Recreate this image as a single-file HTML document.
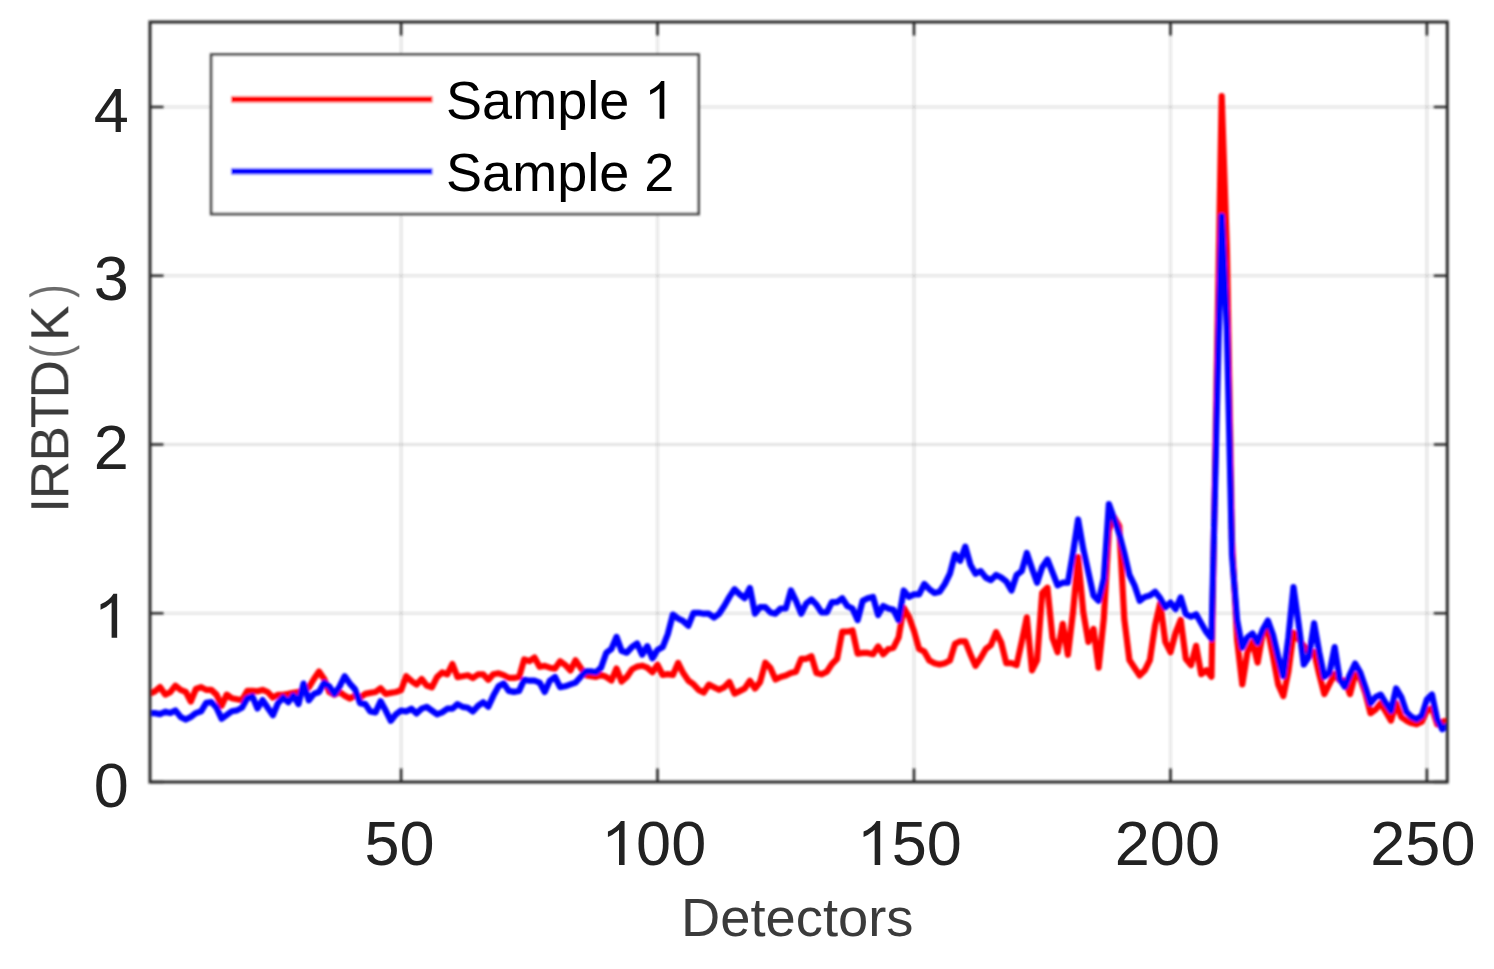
<!DOCTYPE html>
<html><head><meta charset="utf-8"><title>IRBTD chart</title>
<style>html,body{margin:0;padding:0;background:#fff;overflow:hidden}svg{display:block}text{font-kerning:none;white-space:pre}</style>
</head><body>
<svg width="1494" height="969" viewBox="0 0 1494 969"><defs><clipPath id="c"><rect x="150" y="22" width="1297.3" height="760"/></clipPath><filter id="fl" x="0" y="0" width="1494" height="969" filterUnits="userSpaceOnUse"><feGaussianBlur stdDeviation="0.8"/></filter><filter id="ft" x="0" y="0" width="1494" height="969" filterUnits="userSpaceOnUse"><feGaussianBlur stdDeviation="0.5"/></filter></defs><rect width="1494" height="969" fill="#fff"/><g filter="url(#fl)"><path d="M401.1 22V782 M657.5 22V782 M914.0 22V782 M1170.5 22V782 M1426.9 22V782" stroke="#262626" stroke-opacity="0.13" stroke-width="2.6" fill="none"/><path d="M150 613.2H1447.3 M150 444.5H1447.3 M150 275.8H1447.3 M150 107.0H1447.3" stroke="#262626" stroke-opacity="0.13" stroke-width="2.6" fill="none"/><g clip-path="url(#c)" fill="none" stroke-width="6.2" stroke-linejoin="round" stroke-linecap="round"><polyline points="149.8,693.6 154.9,691.3 160.0,687.1 165.2,694.6 170.3,692.2 175.4,685.7 180.6,689.9 185.7,691.8 190.8,701.5 195.9,689.0 201.1,687.1 206.2,689.9 211.3,689.9 216.5,694.6 221.6,705.7 226.7,694.6 231.8,698.3 237.0,699.2 242.1,700.1 247.2,690.9 252.4,690.9 257.5,691.3 262.6,689.9 267.7,692.0 272.9,697.6 278.0,694.8 283.1,694.8 288.3,693.9 293.4,692.9 298.5,692.0 303.6,690.1 308.8,687.4 313.9,679.0 319.0,671.6 324.2,679.0 329.3,692.0 334.4,694.8 339.6,692.0 344.7,695.7 349.8,698.5 354.9,695.7 360.1,697.6 365.2,693.9 370.3,692.9 375.5,692.0 380.6,688.3 385.7,693.9 390.8,692.9 396.0,692.0 401.1,690.1 406.2,676.2 411.4,680.9 416.5,684.6 421.6,679.0 426.7,685.5 431.9,687.4 437.0,677.1 442.1,672.5 447.3,674.4 452.4,664.1 457.5,677.1 462.6,676.2 467.8,675.3 472.9,678.1 478.0,674.4 483.2,674.4 488.3,679.8 493.4,674.2 498.6,673.3 503.7,675.1 508.8,677.9 513.9,677.9 519.1,677.0 524.2,659.4 529.3,661.2 534.5,657.5 539.6,666.8 544.7,665.9 549.8,667.7 555.0,668.6 560.1,661.2 565.2,664.9 570.4,670.5 575.5,660.3 580.6,667.7 585.7,675.1 590.9,676.1 596.0,676.9 601.1,675.0 606.3,676.9 611.4,680.6 616.5,668.5 621.6,681.5 626.8,676.9 631.9,669.4 637.0,666.6 642.2,665.7 647.3,667.6 652.4,672.2 657.5,664.8 662.7,675.0 667.8,674.1 672.9,675.0 678.1,662.9 683.2,673.1 688.3,680.6 693.5,684.3 698.6,689.9 703.7,692.6 708.8,684.6 714.0,687.2 719.1,689.8 724.2,687.2 729.4,682.0 734.5,693.6 739.6,691.1 744.7,688.5 749.9,680.8 755.0,688.5 760.1,682.0 765.3,662.7 770.4,667.9 775.5,679.5 780.6,676.9 785.8,675.6 790.9,673.0 796.0,671.7 801.2,658.8 806.3,658.8 811.4,656.2 816.5,673.0 821.7,674.3 826.8,671.7 831.9,664.0 837.1,658.8 842.2,631.7 847.3,631.7 852.5,630.5 857.6,653.7 862.7,652.9 867.8,652.9 873.0,654.2 878.1,646.4 883.2,654.2 888.4,649.0 893.5,647.7 898.6,637.4 903.7,607.7 908.9,616.8 914.0,631.0 919.1,649.0 924.3,651.6 929.4,660.6 934.5,663.2 939.6,664.5 944.8,663.2 949.9,660.6 955.0,643.8 960.2,641.3 965.3,641.3 970.4,654.2 975.5,665.8 980.7,658.0 985.8,649.0 990.9,645.1 996.1,632.2 1001.2,642.6 1006.3,663.2 1011.5,663.2 1016.6,665.1 1021.7,641.9 1026.8,617.4 1032.0,670.3 1037.1,660.0 1042.2,592.9 1047.4,587.7 1052.5,638.0 1057.6,652.2 1062.7,623.8 1067.9,654.8 1073.0,612.2 1078.1,557.0 1083.3,612.2 1088.4,641.9 1093.5,629.0 1098.6,667.7 1103.8,618.7 1108.9,530.0 1114.0,517.0 1119.2,526.0 1124.3,619.0 1129.4,660.0 1134.5,667.7 1139.7,675.4 1144.8,670.3 1149.9,660.0 1155.1,625.1 1160.2,603.2 1165.3,641.9 1170.5,652.2 1175.6,632.9 1180.7,620.0 1185.8,658.7 1191.0,665.1 1196.1,645.8 1201.2,674.2 1206.4,670.3 1211.5,676.7 1216.6,380.0 1221.7,96.0 1226.9,250.0 1232.0,540.0 1237.1,640.0 1242.3,684.5 1247.4,652.2 1252.5,641.9 1257.6,662.6 1262.8,632.9 1267.9,630.3 1273.0,656.1 1278.2,684.5 1283.3,696.1 1288.4,671.6 1293.5,632.9 1298.7,639.3 1303.8,645.8 1308.9,652.2 1314.1,652.0 1319.2,674.3 1324.3,694.1 1329.4,684.2 1334.6,674.3 1339.7,680.5 1344.8,680.5 1350.0,694.1 1355.1,674.8 1360.2,678.5 1365.4,693.3 1370.5,713.2 1375.6,709.4 1380.7,703.3 1385.9,711.9 1391.0,720.6 1396.1,703.3 1401.3,716.9 1406.4,720.6 1411.5,723.1 1416.6,724.3 1421.8,721.8 1426.9,710.7 1432.0,708.2 1437.2,724.3 1442.3,721.8 1447.4,720.6" stroke="#ff0000"/><polyline points="149.8,713.1 154.9,713.1 160.0,714.1 165.2,711.7 170.3,713.1 175.4,710.4 180.6,716.9 185.7,719.6 190.8,716.9 195.9,713.1 201.1,711.3 206.2,702.9 211.3,702.0 216.5,707.6 221.6,718.7 226.7,715.0 231.8,711.3 237.0,710.4 242.1,707.6 247.2,698.3 252.4,696.4 257.5,708.5 262.6,700.1 267.7,707.8 272.9,715.2 278.0,703.1 283.1,697.6 288.3,702.2 293.4,695.7 298.5,704.1 303.6,683.6 308.8,700.4 313.9,693.9 319.0,692.0 324.2,682.7 329.3,686.4 334.4,693.9 339.6,686.4 344.7,676.2 349.8,683.6 354.9,689.2 360.1,703.1 365.2,704.1 370.3,711.5 375.5,712.4 380.6,701.3 385.7,710.6 390.8,720.8 396.0,714.3 401.1,710.6 406.2,711.5 411.4,708.7 416.5,713.4 421.6,708.7 426.7,706.9 431.9,710.6 437.0,714.3 442.1,712.4 447.3,708.7 452.4,708.7 457.5,704.1 462.6,706.9 467.8,707.8 472.9,711.5 478.0,705.9 483.2,702.2 488.3,706.7 493.4,695.6 498.6,686.3 503.7,683.5 508.8,690.9 513.9,691.9 519.1,690.9 524.2,679.8 529.3,680.7 534.5,680.7 539.6,682.6 544.7,691.9 549.8,680.7 555.0,677.0 560.1,687.2 565.2,686.3 570.4,684.4 575.5,682.6 580.6,677.0 585.7,671.4 590.9,671.4 596.0,672.2 601.1,667.6 606.3,652.7 611.4,649.0 616.5,636.9 621.6,650.9 626.8,652.7 631.9,647.1 637.0,643.4 642.2,654.6 647.3,646.2 652.4,658.3 657.5,649.9 662.7,647.1 667.8,634.1 672.9,614.6 678.1,618.4 683.2,621.1 688.3,625.8 693.5,612.8 698.6,612.8 703.7,613.7 708.8,613.7 714.0,617.6 719.1,613.7 724.2,606.0 729.4,596.9 734.5,589.2 739.6,594.3 744.7,598.2 749.9,587.9 755.0,613.7 760.1,607.2 765.3,607.2 770.4,612.4 775.5,613.7 780.6,608.5 785.8,608.5 790.9,590.5 796.0,600.8 801.2,613.7 806.3,603.4 811.4,599.5 816.5,604.7 821.7,612.4 826.8,612.4 831.9,602.1 837.1,602.1 842.2,598.2 847.3,606.0 852.5,608.5 857.6,620.1 862.7,600.8 867.8,598.2 873.0,596.9 878.1,615.0 883.2,605.9 888.4,608.5 893.5,609.8 898.6,620.1 903.7,590.5 908.9,596.9 914.0,594.3 919.1,594.3 924.3,584.0 929.4,589.2 934.5,593.0 939.6,591.7 944.8,584.0 949.9,573.7 955.0,554.3 960.2,560.8 965.3,546.6 970.4,564.7 975.5,573.7 980.7,571.1 985.8,577.6 990.9,580.1 996.1,575.0 1001.2,577.6 1006.3,581.4 1011.5,590.5 1016.6,575.0 1021.7,571.1 1026.8,553.0 1032.0,568.5 1037.1,582.7 1042.2,567.2 1047.4,559.5 1052.5,572.4 1057.6,585.3 1062.7,582.7 1067.9,582.7 1073.0,553.0 1078.1,519.5 1083.3,549.2 1088.4,572.4 1093.5,595.6 1098.6,600.8 1103.8,578.8 1108.9,504.0 1114.0,518.2 1119.2,533.7 1124.3,553.0 1129.4,575.0 1134.5,585.3 1139.7,600.8 1144.8,596.9 1149.9,595.6 1155.1,591.7 1160.2,598.2 1165.3,607.2 1170.5,602.6 1175.6,609.0 1180.7,597.4 1185.8,614.2 1191.0,616.7 1196.1,614.2 1201.2,623.2 1206.4,632.2 1211.5,638.7 1216.6,420.0 1221.7,216.0 1226.9,330.0 1232.0,555.0 1237.1,620.0 1242.3,647.7 1247.4,637.4 1252.5,633.5 1257.6,642.5 1262.8,629.6 1267.9,620.6 1273.0,634.8 1278.2,656.7 1283.3,676.1 1288.4,637.4 1293.5,587.1 1298.7,624.5 1303.8,664.5 1308.9,656.7 1314.1,623.2 1319.2,652.0 1324.3,676.8 1329.4,673.1 1334.6,647.1 1339.7,679.3 1344.8,686.7 1350.0,674.3 1355.1,663.6 1360.2,672.3 1365.4,687.2 1370.5,703.3 1375.6,697.1 1380.7,694.6 1385.9,703.3 1391.0,710.7 1396.1,688.4 1401.3,697.1 1406.4,711.9 1411.5,716.9 1416.6,719.3 1421.8,715.6 1426.9,699.5 1432.0,694.6 1437.2,719.3 1442.3,729.3 1447.4,725.5" stroke="#0000ff"/></g><path d="M401.1 782v-13.5M401.1 22v13.5 M657.5 782v-13.5M657.5 22v13.5 M914.0 782v-13.5M914.0 22v13.5 M1170.5 782v-13.5M1170.5 22v13.5 M1426.9 782v-13.5M1426.9 22v13.5 M150 782.0h13.5M1447.3 782.0h-13.5 M150 613.2h13.5M1447.3 613.2h-13.5 M150 444.5h13.5M1447.3 444.5h-13.5 M150 275.8h13.5M1447.3 275.8h-13.5 M150 107.0h13.5M1447.3 107.0h-13.5" stroke="#2a2a2a" stroke-width="2.6" fill="none"/><rect x="150" y="22" width="1297.3" height="760" stroke="#2a2a2a" stroke-width="3.0" fill="none"/><rect x="211.2" y="54.6" width="487.4" height="159.4" fill="#fff" stroke="#4a4a4a" stroke-width="2.8"/><path d="M231 99.4H432.5" stroke="#ff0000" stroke-width="6.2"/><path d="M231 171.4H432.5" stroke="#0000ff" stroke-width="6.2"/></g><g filter="url(#ft)" font-family="&quot;Liberation Sans&quot;, sans-serif"><text x="93.66" y="806.50" font-size="63" fill="#202020">0</text><path d="M117.16 637.75L111.62 637.75L111.62 602.41Q106.26 607.51 100.53 609.72L100.53 604.36Q109.41 600.58 113.51 593.78L117.16 593.78Z" fill="#202020"/><text x="93.66" y="469.00" font-size="63" fill="#202020">2</text><text x="93.66" y="300.25" font-size="63" fill="#202020">3</text><text x="93.66" y="131.50" font-size="63" fill="#202020">4</text><text x="364.51" y="865.00" font-size="63" fill="#202020">5</text><text x="399.54" y="865.00" font-size="63" fill="#202020">0</text><text x="636.10" y="865.00" font-size="63" fill="#202020">0</text><text x="671.14" y="865.00" font-size="63" fill="#202020">0</text><path d="M624.56 865.00L619.02 865.00L619.02 829.66Q613.66 834.76 607.93 836.97L607.93 831.61Q616.81 827.83 620.91 821.03L624.56 821.03Z" fill="#202020"/><text x="891.75" y="865.00" font-size="63" fill="#202020">5</text><text x="926.79" y="865.00" font-size="63" fill="#202020">0</text><path d="M880.21 865.00L874.67 865.00L874.67 829.66Q869.31 834.76 863.58 836.97L863.58 831.61Q872.46 827.83 876.56 821.03L880.21 821.03Z" fill="#202020"/><text x="1114.82" y="865.00" font-size="63" fill="#202020">2</text><text x="1149.86" y="865.00" font-size="63" fill="#202020">0</text><text x="1184.90" y="865.00" font-size="63" fill="#202020">0</text><text x="1370.32" y="865.00" font-size="63" fill="#202020">2</text><text x="1405.36" y="865.00" font-size="63" fill="#202020">5</text><text x="1440.40" y="865.00" font-size="63" fill="#202020">0</text><text x="797.3" y="936" font-size="54.3" fill="#3a3a3a" text-anchor="middle">Detectors</text><g transform="translate(68.3 0) rotate(-90) scale(1 1.02)"><text x="-512.70" y="0" font-size="53.3" fill="#3a3a3a">I</text><text x="-499.20" y="0" font-size="53.3" fill="#3a3a3a">R</text><text x="-461.40" y="0" font-size="53.3" fill="#3a3a3a">B</text><text x="-428.30" y="0" font-size="53.3" fill="#3a3a3a">T</text><text x="-398.60" y="0" font-size="53.3" fill="#3a3a3a">D</text><text transform="translate(-350.56 0) scale(0.75 1) translate(350.56 0)" x="-360.90" y="0" font-size="53.3" fill="#6a6a6a">(</text><text x="-341.10" y="0" font-size="53.3" fill="#3a3a3a">K</text><text transform="translate(-292.24 0) scale(0.75 1) translate(292.24 0)" x="-299.60" y="0" font-size="53.3" fill="#6a6a6a">)</text></g><text x="446.10" y="118.8" font-size="54" fill="#000">Sample </text><path d="M664.34 118.80L659.59 118.80L659.59 88.51Q655.00 92.88 650.08 94.77L650.08 90.18Q657.70 86.94 661.21 81.11L664.34 81.11Z" fill="#000"/><text x="446.10" y="190.5" font-size="54" fill="#000">Sample 2</text></g></svg>
</body></html>
